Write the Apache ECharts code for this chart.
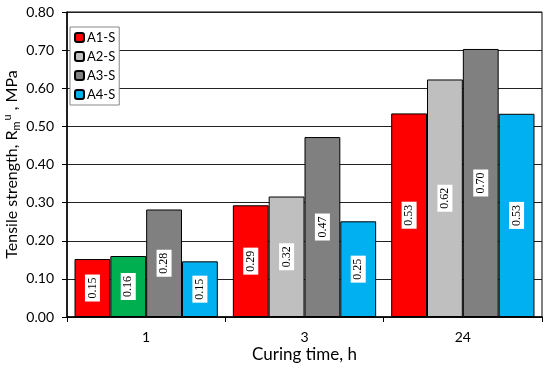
<!DOCTYPE html>
<html>
<head>
<meta charset="utf-8">
<script src="https://cdn.jsdelivr.net/npm/echarts@6/dist/echarts.min.js"></script>
<style>html,body{margin:0;padding:0;background:#fff}#c{width:550px;height:368px}</style>
</head>
<body>
<div id="c"></div>
<script>
const categories = ['1', '3', '24'];
const seriesNames = ['A1-S', 'A2-S', 'A3-S', 'A4-S'];
const A1 = [0.152, 0.293, 0.534];
const A2 = [0.160, 0.316, 0.623];
const A3 = [0.282, 0.472, 0.703];
const A4 = [0.146, 0.251, 0.533];
const yTicks = [0, 0.1, 0.2, 0.3, 0.4, 0.5, 0.6, 0.7, 0.8];

const colors = ['#FF0000', '#BFBFBF', '#808080', '#00B0F0'];
const overrideColor = '#00B050'; // A2-S at 1 h drawn green in the original
const values = [A1, A2, A3, A4];

const chart = echarts.init(document.getElementById('c'));
const sans = 'Lato';
const series = values.map((arr, si) => ({
  name: seriesNames[si],
  type: 'bar',
  barGap: '0%',
  barCategoryGap: '9.5%',
  itemStyle: { color: colors[si], borderColor: '#000', borderWidth: 1 },
  label: {
    show: true, position: 'inside', rotate: 90,
    formatter: p => p.value.toFixed(2),
    backgroundColor: '#fff', padding: [2, 3, 1, 3],
    color: '#000', fontFamily: 'Liberation Serif', fontSize: 12
  },
  data: arr.map((v, i) => (si === 1 && i === 0)
    ? { value: v, itemStyle: { color: overrideColor } }
    : v)
}));

chart.setOption({
  animation: false,
  grid: { left: 67, right: 8, top: 12, bottom: 51, show: true, borderColor: '#000', borderWidth: 1,
          containLabel: false, outerBoundsMode: 'none' },
  legend: {
    orient: 'vertical', left: 70, top: 27,
    backgroundColor: '#fff', borderColor: '#888', borderWidth: 1,
    padding: [4, 4, 4, 4], itemGap: 6,
    itemWidth: 9, itemHeight: 9,
    textStyle: { fontFamily: sans, fontSize: 13, color: '#000', padding: [0, 0, 0, -2] },
    data: seriesNames
  },
  xAxis: {
    type: 'category', data: categories,
    axisLine: { lineStyle: { color: '#000', width: 1.5 } },
    axisTick: { show: true, length: 5, inside: false, lineStyle: { color: '#000' } },
    axisLabel: { color: '#000', fontFamily: sans, fontSize: 14, margin: 13 },
    name: 'Curing time, h', nameLocation: 'middle', nameGap: 29, nameMoveOverlap: false,
    nameTextStyle: { color: '#000', fontFamily: sans, fontSize: 17 }
  },
  yAxis: {
    type: 'value', min: 0, max: 0.8, interval: 0.1,
    axisLine: { show: true, lineStyle: { color: '#000', width: 1.5 } },
    axisTick: { show: true, length: 5, lineStyle: { color: '#000' } },
    splitLine: { lineStyle: { color: '#222', width: 1 } },
    axisLabel: { color: '#000', fontFamily: sans, fontSize: 14, margin: 13,
      formatter: v => v.toFixed(2) },
    name: 'Tensile strength, R{sub|m}{sup|u}{b| , MPa}',
    nameLocation: 'middle', nameGap: 45, nameMoveOverlap: false,
    nameTextStyle: {
      color: '#000', fontFamily: sans, fontSize: 16, lineHeight: 20,
      rich: {
        b: { fontFamily: sans, fontSize: 16, color: '#000', lineHeight: 20 },
        sub: { fontFamily: sans, fontSize: 11, color: '#000', verticalAlign: 'bottom', lineHeight: 12 },
        sup: { fontFamily: sans, fontSize: 11, color: '#000', verticalAlign: 'top', lineHeight: 8, padding: [0, 0, 0, 1] }
      }
    }
  },
  series: series
});
</script>
</body>
</html>
